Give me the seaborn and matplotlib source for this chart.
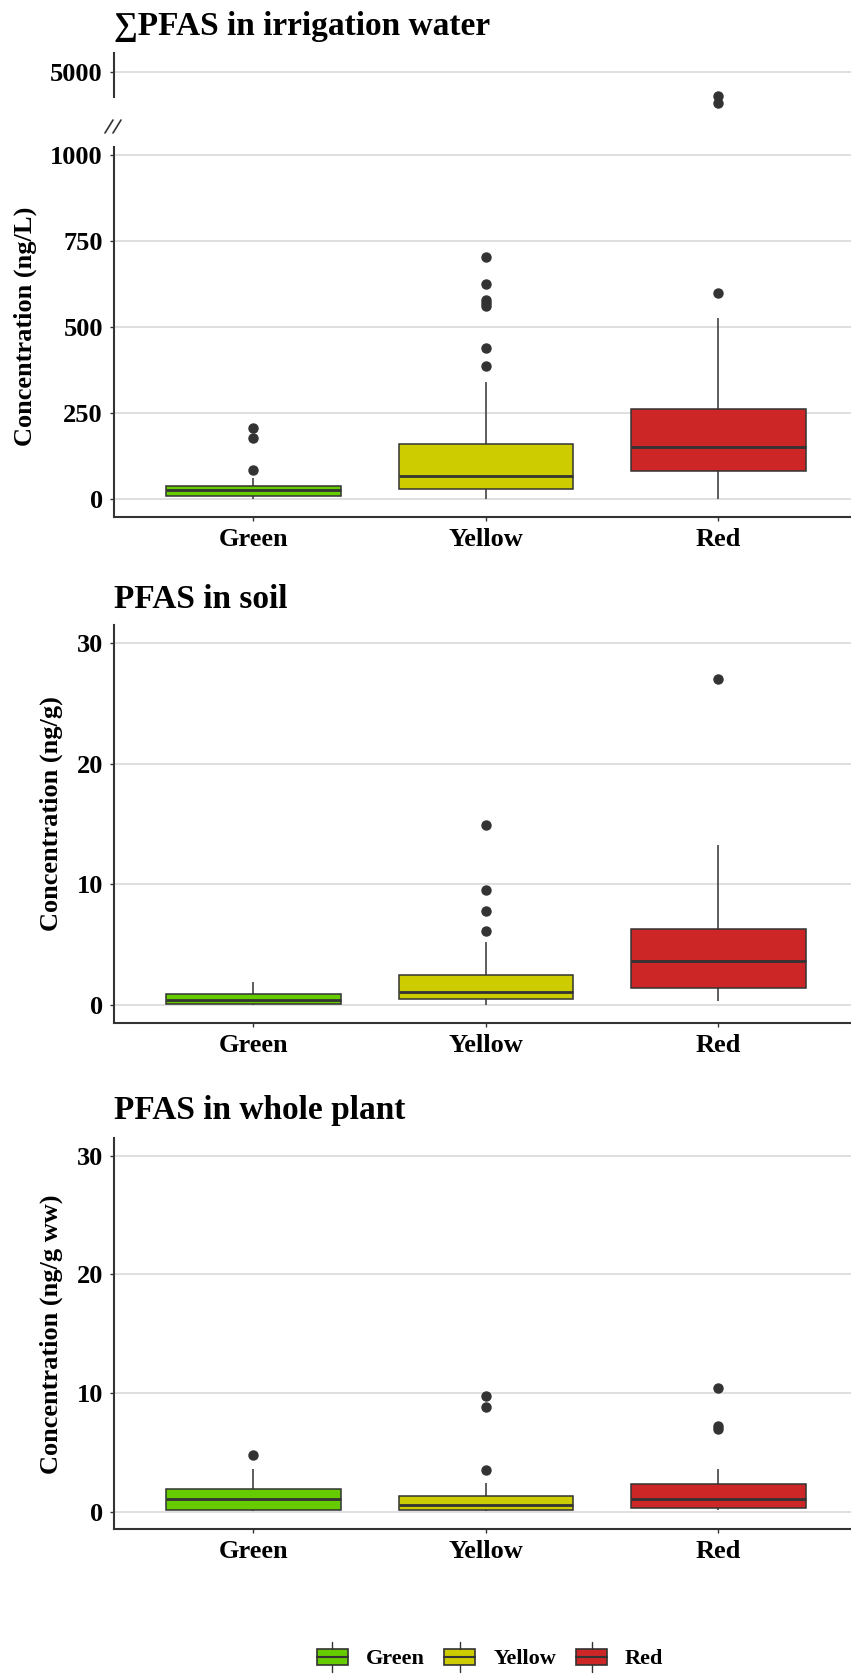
import matplotlib
matplotlib.use('Agg')
import numpy as np
import pandas as pd
import matplotlib.pyplot as plt
import seaborn as sns
from matplotlib.patches import Rectangle
from matplotlib.lines import Line2D
from matplotlib.legend_handler import HandlerBase

# Groups and fill colours
groups = ['Green', 'Yellow', 'Red']
colors = ['#66CC00', '#CCCC00', '#CC2626']

# Box summaries: lower whisker, Q1, median, Q3, upper whisker, outliers
water_lo = [1, 1, 1]
water_q1 = [9, 28, 82]
water_med = [25, 67, 150]
water_q3 = [37, 159, 263]
water_hi = [62, 341, 527]
water_out = [[84, 178, 207], [388, 438, 560, 570, 578, 626, 702], [598, 4440, 4570]]

soil_lo = [0.03, 0.05, 0.36]
soil_q1 = [0.08, 0.55, 1.44]
soil_med = [0.47, 1.10, 3.64]
soil_q3 = [0.91, 2.48, 6.35]
soil_hi = [1.93, 5.24, 13.25]
soil_out = [[], [6.18, 7.81, 9.58, 14.9], [27.0]]

plant_lo = [0.03, 0.03, 0.14]
plant_q1 = [0.14, 0.14, 0.31]
plant_med = [1.03, 0.53, 1.03]
plant_q3 = [1.92, 1.31, 2.37]
plant_hi = [3.59, 2.42, 3.59]
plant_out = [[4.75], [3.54, 8.83, 9.72], [6.95, 7.2, 10.45]]


def rebuild(lo, q1, med, q3, hi, out):
    # only the box summaries are known, so weight the quartiles so the
    # boxplot statistics come out at the values
    vals = [lo] + [q1] * 10 + [med] * 10 + [q3] * 10 + [hi] + list(out)
    return vals


def make_df(lo, q1, med, q3, hi, out):
    rows = []
    for i, g in enumerate(groups):
        for v in rebuild(lo[i], q1[i], med[i], q3[i], hi[i], out[i]):
            rows.append((g, v))
    return pd.DataFrame(rows, columns=['Group', 'Value'])


df_water = make_df(water_lo, water_q1, water_med, water_q3, water_hi, water_out)
df_soil = make_df(soil_lo, soil_q1, soil_med, soil_q3, soil_hi, soil_out)
df_plant = make_df(plant_lo, plant_q1, plant_med, plant_q3, plant_hi, plant_out)

sns.set_style('white')
plt.rcParams['font.family'] = ['Liberation Serif', 'DejaVu Serif']
plt.rcParams['font.weight'] = 'bold'
plt.rcParams['text.color'] = 'black'
plt.rcParams['axes.labelcolor'] = 'black'
plt.rcParams['xtick.color'] = 'black'
plt.rcParams['ytick.color'] = 'black'

W, H = 851, 1675
fig = plt.figure(figsize=(W / 100, H / 100), dpi=100)


def fr(x0, y0, x1, y1):
    return [x0 / W, 1 - y1 / H, (x1 - x0) / W, (y1 - y0) / H]


dark = '#333333'
pal = dict(zip(groups, colors))


def draw_box(ax, df):
    sns.boxplot(data=df, x='Group', y='Value', hue='Group', order=groups,
                hue_order=groups, palette=pal, saturation=1, dodge=False,
                width=0.75, linecolor=dark, linewidth=1.1, showcaps=False,
                legend=False,
                medianprops=dict(linewidth=2.0, color=dark),
                flierprops=dict(marker='o', markersize=6.5,
                                markerfacecolor=dark, markeredgecolor=dark),
                ax=ax)
    ax.set_xlim(-0.6, 2.57)
    ax.set_xlabel('')
    ax.set_ylabel('')
    ax.grid(axis='y', color='#D9D9D9', linewidth=1.2)
    ax.grid(axis='x', visible=False)
    ax.set_axisbelow(True)
    for s in ['top', 'right']:
        ax.spines[s].set_visible(False)
    for s in ['left', 'bottom']:
        ax.spines[s].set_color(dark)
        ax.spines[s].set_linewidth(1.5)
    ax.tick_params(axis='both', which='major', length=3, width=1, color=dark,
                   labelcolor='black', labelsize=19, pad=5, left=True,
                   bottom=True)
    for lab in ax.get_xticklabels() + ax.get_yticklabels():
        lab.set_fontweight('bold')


# Panel 1: irrigation water with broken axis
ax_top = fig.add_axes(fr(114, 53, 851, 108))
draw_box(ax_top, df_water)
ax_top.set_ylim(4351, 5351)
ax_top.set_yticks([5000])
ax_top.spines['bottom'].set_visible(False)
ax_top.spines['left'].set_bounds(4551, 5351)
ax_top.tick_params(axis='x', bottom=False, labelbottom=False)

ax_w = fig.add_axes(fr(114, 147, 851, 517))
draw_box(ax_w, df_water)
ax_w.set_ylim(-52, 1023)
ax_w.set_yticks([0, 250, 500, 750, 1000])

# break marks
for x0, x1 in [(105, 113), (113, 121)]:
    fig.add_artist(Line2D([x0 / W, x1 / W], [1 - 133 / H, 1 - 120 / H],
                          color=dark, linewidth=1.2, transform=fig.transFigure))

# Panel 2: soil
ax_s = fig.add_axes(fr(114, 625, 851, 1023))
draw_box(ax_s, df_soil)
ax_s.set_ylim(-1.46, 31.46)
ax_s.set_yticks([0, 10, 20, 30])

# Panel 3: whole plant
ax_p = fig.add_axes(fr(114, 1138, 851, 1529))
draw_box(ax_p, df_plant)
ax_p.set_ylim(-1.46, 31.49)
ax_p.set_yticks([0, 10, 20, 30])

# Titles
fig.text(114 / W, 1 - 26 / H, '\u2211PFAS in irrigation water', fontsize=24,
         fontweight='bold', ha='left', va='center', color='black')
fig.text(114 / W, 1 - 600 / H, 'PFAS in soil', fontsize=24,
         fontweight='bold', ha='left', va='center', color='black')
fig.text(114 / W, 1 - 1110 / H, 'PFAS in whole plant', fontsize=24,
         fontweight='bold', ha='left', va='center', color='black')

# Y labels
fig.text(25 / W, 1 - 326 / H, 'Concentration (ng/L)', rotation=90, fontsize=19,
         fontweight='bold', ha='center', va='center', color='black')
fig.text(51 / W, 1 - 814 / H, 'Concentration (ng/g)', rotation=90, fontsize=19,
         fontweight='bold', ha='center', va='center', color='black')
fig.text(51 / W, 1 - 1334 / H, 'Concentration (ng/g ww)', rotation=90, fontsize=19,
         fontweight='bold', ha='center', va='center', color='black')


# Legend with boxplot-style keys
class BoxKey(HandlerBase):
    def create_artists(self, legend, orig_handle, xdescent, ydescent, width,
                       height, fontsize, trans):
        x0, y0 = -xdescent, -ydescent
        fc = orig_handle.get_facecolor()
        rect = Rectangle((x0, y0 + height * 0.2), width, height * 0.6,
                         facecolor=fc, edgecolor=dark, linewidth=1.2,
                         transform=trans)
        mid = Line2D([x0, x0 + width], [y0 + height * 0.5] * 2, color=dark,
                     linewidth=1.5, transform=trans)
        top = Line2D([x0 + width / 2] * 2, [y0 + height * 0.8, y0 + height * 1.05],
                     color=dark, linewidth=1.0, transform=trans)
        bot = Line2D([x0 + width / 2] * 2, [y0 - height * 0.05, y0 + height * 0.2],
                     color=dark, linewidth=1.0, transform=trans)
        return [rect, mid, top, bot]


handles = [Rectangle((0, 0), 1, 1, facecolor=c) for c in colors]
leg = fig.legend(handles, groups, handler_map={Rectangle: BoxKey()},
                 loc='center', bbox_to_anchor=(490 / W, 1 - 1657 / H), ncol=3,
                 frameon=False, prop={'size': 16, 'weight': 'bold'},
                 handlelength=1.4, handleheight=1.5, handletextpad=0.8,
                 columnspacing=0.9)
for t in leg.get_texts():
    t.set_color('black')

fig.savefig('out.png', dpi=100)
